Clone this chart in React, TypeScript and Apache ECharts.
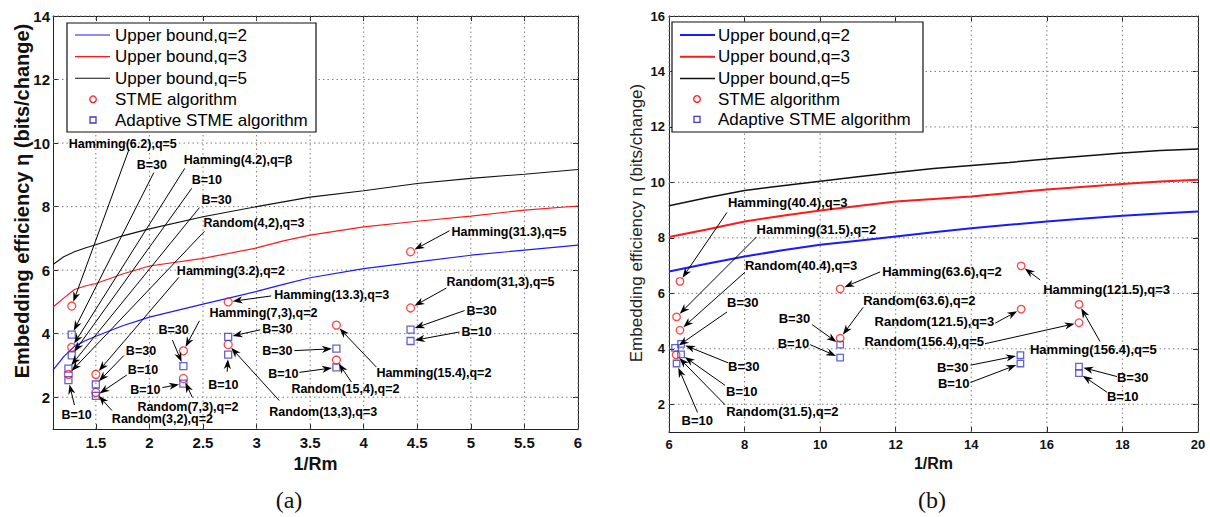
import React, { useEffect, useRef } from "react";
import * as echarts from "echarts";

// ---------------- Panel (a) data ----------------
const aCurveX = [1.1, 1.2, 1.3, 1.4, 1.5, 1.75, 2, 2.5, 3, 3.25, 3.5, 4, 4.5, 5, 5.5, 6];
const aBoundQ2 = [2.85, 3.28, 3.6, 3.78, 3.92, 4.25, 4.52, 4.93, 5.33, 5.55, 5.76, 6.05, 6.26, 6.47, 6.63, 6.79];
const aBoundQ3 = [4.84, 5.12, 5.39, 5.5, 5.58, 5.88, 6.13, 6.37, 6.7, 6.92, 7.1, 7.36, 7.54, 7.7, 7.89, 8.02];
const aBoundQ5 = [6.18, 6.42, 6.58, 6.7, 6.8, 7.08, 7.3, 7.68, 8.0, 8.15, 8.3, 8.5, 8.73, 8.89, 9.02, 9.17];
const aStmeX = [1.275, 1.275, 1.244, 1.5, 1.5, 2.317, 2.317, 2.735, 2.735, 3.745, 3.745, 4.437, 4.437];
const aStmeY = [4.87, 3.57, 2.72, 2.72, 2.15, 3.46, 2.59, 5.0, 3.66, 4.27, 3.17, 6.58, 4.81];
const aAdaptX = [1.275, 1.275, 1.244, 1.244, 1.5, 1.5, 2.317, 2.317, 2.735, 2.735, 3.745, 3.745, 4.437, 4.437];
const aAdaptY = [3.97, 3.32, 2.9, 2.54, 2.4, 2.04, 2.98, 2.43, 3.9, 3.34, 3.53, 2.94, 4.13, 3.77];
const aXTicks = [1.5, 2, 2.5, 3, 3.5, 4, 4.5, 5, 5.5, 6];
const aYTicks = [2, 4, 6, 8, 10, 12, 14];

// ---------------- Panel (b) data ----------------
const bCurveX = [6, 7, 8, 9, 10, 11, 12, 13, 14, 15, 16, 17, 18, 19, 20];
const bBoundQ2 = [6.79, 7.07, 7.33, 7.55, 7.75, 7.9, 8.05, 8.2, 8.35, 8.47, 8.59, 8.7, 8.8, 8.88, 8.95];
const bBoundQ3 = [8.03, 8.3, 8.59, 8.8, 8.99, 9.15, 9.31, 9.4, 9.49, 9.62, 9.74, 9.84, 9.94, 10.03, 10.1];
const bBoundQ5 = [9.16, 9.45, 9.71, 9.88, 10.04, 10.2, 10.36, 10.5, 10.61, 10.72, 10.84, 10.95, 11.06, 11.15, 11.2];
const bStmeX = [6.29, 6.2, 6.29, 6.19, 10.53, 10.53, 15.32, 15.32, 16.85, 16.85];
const bStmeY = [6.43, 5.15, 4.67, 3.78, 6.16, 4.38, 6.99, 5.43, 5.6, 4.94];
const bAdaptX = [6.32, 6.16, 6.32, 6.2, 10.53, 10.53, 15.3, 15.3, 16.85, 16.85];
const bAdaptY = [4.18, 4.03, 3.8, 3.47, 4.15, 3.68, 3.77, 3.47, 3.36, 3.12];
const bXTicks = [6, 8, 10, 12, 14, 16, 18, 20];
const bYTicks = [2, 4, 6, 8, 10, 12, 14, 16];

const legendLabels = ["Upper bound,q=2", "Upper bound,q=3", "Upper bound,q=5", "STME algorithm", "Adaptive STME algorithm"];
const xTitle = "1/Rm";
const yTitle = "Embedding efficiency η (bits/change)";

// annotations: [marker kind, index, text, line start offset px, label offset px, align]
type Note = [string, number, string, number[], number[], string?];
const aNotes: Note[] = [
  ["c", 0, "Hamming(6.2),q=5", [57, -156], [-3, -162]],
  ["s", 0, "B=30", [82, -162], [65, -170]],
  ["c", 1, "Hamming(4.2),q=β", [113, -179], [112, -187]],
  ["s", 1, "B=10", [120, -167], [120, -175]],
  ["s", 2, "B=30", [131, -161], [133, -169]],
  ["c", 2, "Random(4,2),q=3", [136, -143], [135, -151]],
  ["c", 3, "Hamming(3.2),q=2", [83, -97], [81, -103]],
  ["s", 3, "B=10", [6, 25], [-7, 35]],
  ["s", 4, "B=30", [28, -29], [30, -34]],
  ["s", 5, "B=10", [31, -21], [32, -26]],
  ["c", 4, "Random(3,2),q=2", [16, 18], [16, 27]],
  ["s", 6, "B=30", [-11, -26], [-25, -36]],
  ["c", 5, "Hamming(7,3),q=2", [16, -30], [26, -38]],
  ["s", 7, "B=10", [-21, 4], [-23, 6], "right"],
  ["c", 6, "Random(7,3),q=2", [9, 19], [-46, 29]],
  ["s", 8, "B=30", [32, -7], [34, -8]],
  ["s", 9, "B=10", [-1, 17], [-20, 30]],
  ["c", 8, "Random(13,3),q=3", [51, 56], [41, 68]],
  ["c", 7, "Hamming(13.3),q=3", [43, -6], [46, -7]],
  ["s", 10, "B=30", [-42, 2], [-44, 2], "right"],
  ["s", 11, "B=10", [-37, 5], [-38, 7], "right"],
  ["c", 10, "Random(15,4),q=2", [15, 22], [-45, 29]],
  ["c", 9, "Hamming(15.4),q=2", [40, 42], [40, 48]],
  ["c", 11, "Hamming(31.3),q=5", [39, -21], [41, -20]],
  ["c", 12, "Random(31,3),q=5", [36, -20], [36, -26]],
  ["s", 12, "B=30", [54, -19], [56, -19]],
  ["s", 13, "B=10", [49, -9], [51, -9]],
];
const bNotes: Note[] = [
  ["c", 0, "Hamming(40.4),q=3", [47, -69], [48, -79]],
  ["c", 1, "Hamming(31.5),q=2", [80, -80], [80, -87]],
  ["c", 2, "Random(40.4),q=3", [65, -58], [65, -65]],
  ["s", 1, "B=30", [52, -36], [52, -45]],
  ["s", 0, "B=30", [47, 19], [47, 23]],
  ["s", 2, "B=10", [44, 31], [45, 37]],
  ["c", 3, "Random(31.5),q=2", [49, 50], [50, 57]],
  ["s", 3, "B=10", [21, 49], [5, 57]],
  ["c", 4, "Hamming(63.6),q=2", [40, -17], [42, -17]],
  ["c", 5, "Random(63.6),q=2", [23, -31], [23, -38]],
  ["c", 7, "Random(121.5),q=3", [-26, 14], [-27, 12], "right"],
  ["c", 9, "Random(156.4),q=5", [-94, 21], [-95, 19], "right"],
  ["s", 4, "B=30", [-28, -20], [-30, -26], "right"],
  ["s", 5, "B=10", [-30, -13], [-31, -14], "right"],
  ["c", 6, "Hamming(121.5),q=3", [19, 14], [22, 24]],
  ["c", 8, "Hamming(156.4),q=5", [21, 37], [-49, 45]],
  ["s", 6, "B=30", [-50, 10], [-52, 12], "right"],
  ["s", 7, "B=10", [-50, 19], [-51, 20], "right"],
  ["s", 8, "B=30", [38, 10], [38, 11]],
  ["s", 9, "B=10", [28, 19], [28, 23]],
];

const FONT = "Arial, 'Liberation Sans', Helvetica, sans-serif";
const BLUE = "#1a1aff";
const RED = "#ff1a1a";
const BLACK = "#111111";
const SQ = "#3b3bc8";
const GRIDC = "#7d7d7d";

const zip = (xs: number[], ys: number[]) => xs.map((x, i) => [x, ys[i]]);

function noteRender(notes: Note[], fontSize: number) {
  return (params: any, api: any) => {
    const n = notes[params.dataIndex];
    const p = api.coord([api.value(0), api.value(1)]);
    const px = p[0], py = p[1];
    const sx = px + n[3][0], sy = py + n[3][1];
    const dx = px - sx, dy = py - sy;
    const len = Math.hypot(dx, dy) || 1;
    const ux = dx / len, uy = dy / len;
    const gap = 4.5, L = 10, W = 3.6;
    const tx = px - ux * gap, ty = py - uy * gap;
    const bx = tx - ux * L, by = ty - uy * L;
    const nx = -uy, ny = ux;
    const kx = tx - ux * L * 0.7, ky = ty - uy * L * 0.7;
    const align = n[5] || "left";
    return {
      type: "group",
      children: [
        { type: "line", shape: { x1: sx, y1: sy, x2: kx, y2: ky }, style: { stroke: "#000", lineWidth: 1 } },
        {
          type: "polygon",
          shape: { points: [[tx, ty], [bx + nx * W, by + ny * W], [kx, ky], [bx - nx * W, by - ny * W]] },
          style: { fill: "#000" },
        },
        {
          type: "text",
          x: px + n[4][0],
          y: py + n[4][1],
          style: {
            text: n[2],
            fill: "#000",
            font: `bold ${fontSize}px ${FONT}`,
            align,
            verticalAlign: "middle",
            textAlign: align,
            textVerticalAlign: "middle",
          },
        },
      ],
    };
  };
}

// dotted grid lines, one item per tick, placed through the axis scale
function gridSeries(xi: number, yi: number, xt: number[], yt: number[], xmin: number, xmax: number, ymin: number, ymax: number) {
  const data = [
    ...xt.map((v) => [v, ymin, v, ymax]),
    ...yt.map((v) => [xmin, v, xmax, v]),
  ];
  return {
    type: "custom",
    xAxisIndex: xi,
    yAxisIndex: yi,
    silent: true,
    clip: false,
    z: 1,
    encode: { x: [0, 2], y: [1, 3] },
    data,
    renderItem: (params: any, api: any) => {
      const p1 = api.coord([api.value(0), api.value(1)]);
      const p2 = api.coord([api.value(2), api.value(3)]);
      return {
        type: "line",
        shape: { x1: p1[0], y1: p1[1], x2: p2[0], y2: p2[1] },
        style: { stroke: GRIDC, lineWidth: 1, lineDash: [1.5, 3] },
      };
    },
  };
}

function axisPair(gi: number, min: number, max: number, ticks: number[], dim: "x" | "y", fs: number, margin: number, name?: any) {
  const line = { show: true, lineStyle: { color: "#222", width: 1 } };
  const tick = { show: true, inside: true, length: 5, customValues: ticks, lineStyle: { color: "#222" } };
  const main: any = {
    type: "value",
    gridIndex: gi,
    min,
    max,
    position: dim === "x" ? "bottom" : "left",
    axisLine: line,
    axisTick: tick,
    splitLine: { show: false },
    axisLabel: { customValues: ticks, fontSize: fs, fontWeight: "bold", color: "#111", fontFamily: FONT, margin },
    ...(name || {}),
  };
  const mirror: any = {
    type: "value",
    gridIndex: gi,
    min,
    max,
    position: dim === "x" ? "top" : "right",
    axisLine: line,
    axisTick: tick,
    splitLine: { show: false },
    axisLabel: { show: false },
  };
  return [main, mirror];
}

function panelSeries(
  xi: number, yi: number, cx: number[], q2: number[], q3: number[], q5: number[],
  stx: number[], sty: number[], adx: number[], ady: number[], notes: Note[], thick: boolean,
  cSize: number, sSize: number, fs: number
) {
  const lineS = (name: string, ys: number[], color: string, w: number) => ({
    name,
    type: "line",
    xAxisIndex: xi,
    yAxisIndex: yi,
    data: zip(cx, ys),
    symbol: "none",
    showSymbol: false,
    lineStyle: { color, width: w },
    z: 3,
  });
  return [
    lineS(legendLabels[0], q2, BLUE, thick ? 2 : 1.2),
    lineS(legendLabels[1], q3, RED, thick ? 2 : 1.2),
    lineS(legendLabels[2], q5, BLACK, thick ? 1.5 : 1.1),
    {
      name: legendLabels[3],
      type: "scatter",
      xAxisIndex: xi,
      yAxisIndex: yi,
      data: zip(stx, sty),
      symbol: "circle",
      symbolSize: cSize,
      itemStyle: { color: "rgba(255,255,255,0)", borderColor: RED, borderWidth: 1.3 },
      z: 4,
    },
    {
      name: legendLabels[4],
      type: "scatter",
      xAxisIndex: xi,
      yAxisIndex: yi,
      data: zip(adx, ady),
      symbol: "rect",
      symbolSize: sSize,
      itemStyle: { color: "rgba(255,255,255,0)", borderColor: SQ, borderWidth: 1.3 },
      z: 4,
    },
    {
      type: "custom",
      xAxisIndex: xi,
      yAxisIndex: yi,
      clip: false,
      silent: true,
      z: 5,
      encode: { x: 0, y: 1 },
      data: notes.map((n) => (n[0] === "c" ? [stx[n[1]], sty[n[1]]] : [adx[n[1]], ady[n[1]]])),
      renderItem: noteRender(notes, fs),
    },
  ];
}

function legendGraphic(x: number, y: number, w: number, h: number, lx1: number, lx2: number, mx: number, tx: number, ys: number[], thick: boolean) {
  const colors = [BLUE, RED, BLACK];
  const widths = thick ? [2, 2, 1.5] : [1.2, 1.2, 1.1];
  const els: any[] = [
    { type: "rect", shape: { x, y, width: w, height: h }, style: { fill: "#fff", stroke: "#111", lineWidth: 1.2 }, z: 100 },
  ];
  for (let i = 0; i < 3; i++) {
    els.push({ type: "line", shape: { x1: lx1, y1: ys[i], x2: lx2, y2: ys[i] }, style: { stroke: colors[i], lineWidth: widths[i] }, z: 101 });
  }
  els.push({ type: "circle", shape: { cx: mx, cy: ys[3], r: 3.3 }, style: { fill: "none", stroke: RED, lineWidth: 1.3 }, z: 101 });
  els.push({ type: "rect", shape: { x: mx - 3, y: ys[4] - 3, width: 6, height: 6 }, style: { fill: "none", stroke: SQ, lineWidth: 1.3 }, z: 101 });
  legendLabels.forEach((t, i) => {
    els.push({
      type: "text",
      x: tx,
      y: ys[i],
      style: { text: t, fill: "#000", font: `17px ${FONT}`, textAlign: "left", textVerticalAlign: "middle", align: "left", verticalAlign: "middle" },
      z: 101,
    });
  });
  return els;
}

const aX = axisPair(0, 1.1, 6, aXTicks, "x", 15, 6, {
  name: xTitle, nameLocation: "middle", nameGap: 24,
  nameTextStyle: { fontSize: 18, fontWeight: "bold", color: "#111", fontFamily: FONT, verticalAlign: "top" },
});
const aY = axisPair(0, 1, 14, aYTicks, "y", 15, 3);
const bX = axisPair(1, 6, 20, bXTicks, "x", 13, 6, {
  name: xTitle, nameLocation: "middle", nameGap: 21,
  nameTextStyle: { fontSize: 16, fontWeight: "bold", color: "#111", fontFamily: FONT, verticalAlign: "top" },
});
const bY = axisPair(1, 1, 16, bYTicks, "y", 13, 4);

const option: any = {
  animation: false,
  backgroundColor: "#ffffff",
  grid: [
    { left: 53, top: 16, width: 525, height: 413 },
    { left: 669, top: 16, width: 529, height: 416 },
  ],
  xAxis: [aX[0], aX[1], bX[0], bX[1]],
  yAxis: [aY[0], aY[1], bY[0], bY[1]],
  series: [
    gridSeries(0, 0, aXTicks, aYTicks, 1.1, 6, 1, 14),
    ...panelSeries(0, 0, aCurveX, aBoundQ2, aBoundQ3, aBoundQ5, aStmeX, aStmeY, aAdaptX, aAdaptY, aNotes, false, 8, 7, 12.5),
    gridSeries(2, 2, bXTicks, bYTicks, 6, 20, 1, 16),
    ...panelSeries(2, 2, bCurveX, bBoundQ2, bBoundQ3, bBoundQ5, bStmeX, bStmeY, bAdaptX, bAdaptY, bNotes, true, 7.5, 6.5, 13),
  ],
  graphic: [
    ...legendGraphic(67, 23, 249, 109, 75, 110, 93, 115, [35, 56.7, 78.3, 99.3, 120], false),
    ...legendGraphic(672, 22, 251, 110, 680, 715, 697, 718, [35, 56.7, 78.5, 99, 119.3], true),
    {
      type: "text", x: 22, y: 201, rotation: Math.PI / 2,
      style: { text: yTitle, fill: "#111", font: `bold 20px ${FONT}`, textAlign: "center", textVerticalAlign: "middle", align: "center", verticalAlign: "middle" },
    },
    {
      type: "text", x: 636, y: 223, rotation: Math.PI / 2,
      style: { text: yTitle, fill: "#222", font: `17px ${FONT}`, textAlign: "center", textVerticalAlign: "middle", align: "center", verticalAlign: "middle" },
    },
    {
      type: "text", x: 289, y: 500,
      style: { text: "(a)", fill: "#111", font: `24px 'Liberation Serif', 'DejaVu Serif', serif`, textAlign: "center", textVerticalAlign: "middle", align: "center", verticalAlign: "middle" },
    },
    {
      type: "text", x: 932, y: 500,
      style: { text: "(b)", fill: "#111", font: `24px 'Liberation Serif', 'DejaVu Serif', serif`, textAlign: "center", textVerticalAlign: "middle", align: "center", verticalAlign: "middle" },
    },
  ],
};

export default function App() {
  const ref = useRef<HTMLDivElement>(null);
  useEffect(() => {
    if (!ref.current) return;
    const chart = echarts.init(ref.current, undefined, { renderer: "svg" });
    chart.setOption(option);
    return () => chart.dispose();
  }, []);
  return (
    <div
      ref={ref}
      style={{ position: "fixed", left: 0, top: 0, width: 1210, height: 517, background: "#fff" }}
    />
  );
}
